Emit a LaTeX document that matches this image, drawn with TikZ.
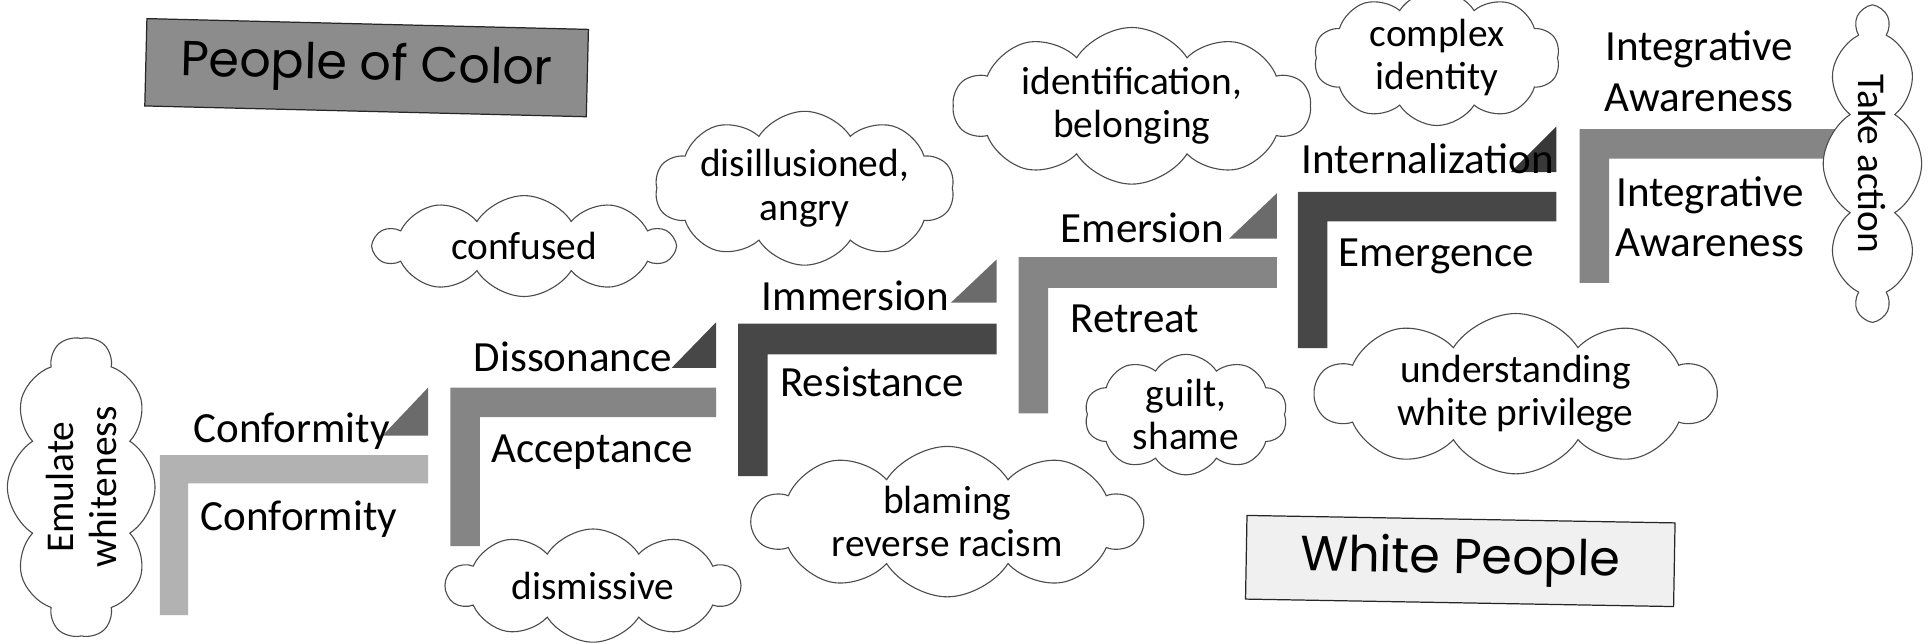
\documentclass[tikz,border=0pt]{standalone}
\usepackage{fontspec}
\setmainfont{Carlito}
\newfontfamily\bannerfont{Poppins}
\usetikzlibrary{shapes.symbols}
\definecolor{pale}{gray}{0.70}
\definecolor{mid}{gray}{0.52}
\definecolor{deep}{gray}{0.28}
\definecolor{wedge}{gray}{0.42}
\definecolor{wedgedark}{gray}{0.22}
\tikzset{stage/.style={font=\fontsize{35}{41}\selectfont, inner sep=0pt, align=center},
  thought/.style={cloud, cloud puffs=10, cloud puff arc=115, cloud ignores aspect, draw=black!70, line width=0.9pt, fill=white, inner sep=0pt, align=center, font=\fontsize{32}{35}\selectfont},
  banner/.style={draw=black!85, line width=1pt, inner sep=0pt, font=\bannerfont\fontsize{40}{46}\selectfont}}

\begin{document}
\begin{tikzpicture}[x=1pt, y=-1pt]

  % frame
  \fill[white] (0,0) rectangle (1568,523);
  \useasboundingbox (0,0) rectangle (1568,523);

  % stairs
  \fill[pale] (130,370) -- (348,370) -- (348,393) -- (153,393) -- (153,500) -- (130,500) -- cycle;
  \fill[mid] (366,315) -- (582,315) -- (582,339) -- (390,339) -- (390,444) -- (366,444) -- cycle;
  \fill[deep] (600,263) -- (810,263) -- (810,288) -- (624,288) -- (624,387) -- (600,387) -- cycle;
  \fill[mid] (828,209) -- (1038,209) -- (1038,234) -- (852,234) -- (852,336) -- (828,336) -- cycle;
  \fill[deep] (1055,156) -- (1265,156) -- (1265,180) -- (1079,180) -- (1079,283) -- (1055,283) -- cycle;
  \fill[mid] (1284,105) -- (1500,105) -- (1500,129) -- (1308,129) -- (1308,230) -- (1284,230) -- cycle;

  % wedges
  \fill[wedge] (311,354) -- (348,315) -- (348,354) -- cycle;
  \fill[deep] (546,299) -- (582,262) -- (582,299) -- cycle;
  \fill[wedge] (773,246) -- (810,211) -- (810,246) -- cycle;
  \fill[wedge] (999,194) -- (1038,157) -- (1038,194) -- cycle;
  \fill[wedgedark] (1228,140) -- (1265,103) -- (1265,140) -- cycle;

  % stage names
  \node[stage, anchor=base west] (conformityPoc) at (157,360) {Conformity};
  \node[stage, anchor=base west] (conformityWp) at (163,431) {Conformity};
  \node[stage, anchor=base west] (dissonance) at (385,302) {Dissonance};
  \node[stage, anchor=base west] (acceptance) at (399,376) {Acceptance};
  \node[stage, anchor=base west] (immersion) at (619,252) {Immersion};
  \node[stage, anchor=base west] (resistance) at (634,322) {Resistance};
  \node[stage, anchor=base west] (emersion) at (862,197) {Emersion};
  \node[stage, anchor=base west] (retreat) at (870,270) {Retreat};
  \node[stage, anchor=base west] (internalization) at (1058,141) {Internalization};
  \node[stage, anchor=base west] (emergence) at (1088,217) {Emergence};
  \node[stage] (integrativePoc) at (1381,58) {Integrative\\Awareness};
  \node[stage] (integrativeWp) at (1390,176) {Integrative\\Awareness};

  % clouds
  \node[thought, rotate=90, minimum width=244, minimum height=120] (emulate) at (66,396) {Emulate\\whiteness};
  \node[thought, minimum width=243, minimum height=82] (confused) at (426,200) {confused};
  \node[thought, minimum width=228, minimum height=90] (disillusioned) at (654,153) {disillusioned,\\angry};
  \node[thought, minimum width=290, minimum height=86] (identification) at (920,86) {identification,\\belonging};
  \node[thought, minimum width=200, minimum height=84] (complex) at (1168,47) {complex\\identity};
  \node[thought, minimum width=325, minimum height=116] (privilege) at (1232,320) {understanding\\white privilege};
  \node[thought, minimum width=165, minimum height=90] (guilt) at (964,337) {guilt,\\shame};
  \node[thought, minimum width=316, minimum height=120] (blaming) at (770,424) {blaming\\reverse racism};
  \node[thought, minimum width=238, minimum height=92] (dismissive) at (482,476) {dismissive};
  \node[thought, rotate=-90, minimum width=252, minimum height=80] (action) at (1522,133) {Take action};

  % banners
  \node[banner, fill=black!45, minimum width=359, minimum height=71, rotate=-1.4] (poc) at (298,55) {People of Color};
  \node[banner, fill=black!6, minimum width=348, minimum height=68, rotate=-1.0] (wp) at (1187,456) {White People};

\end{tikzpicture}
\end{document}
